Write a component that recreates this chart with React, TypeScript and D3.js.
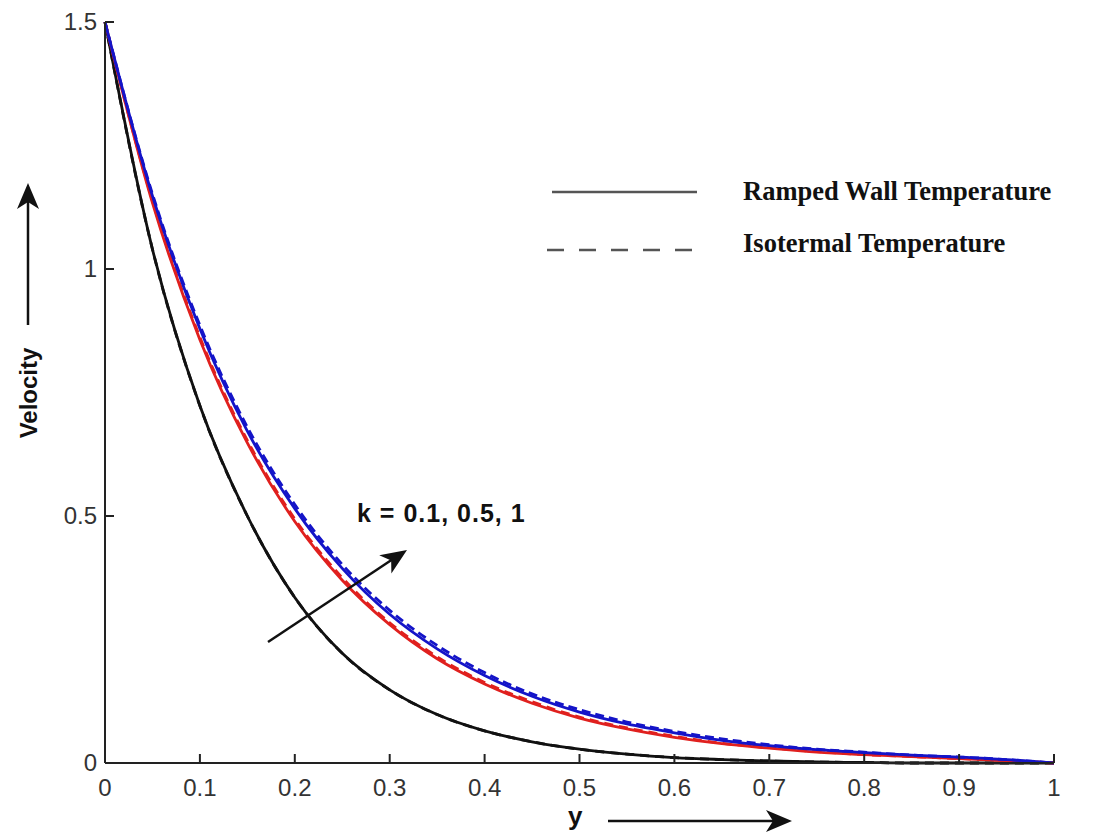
import React from 'react';
import * as d3 from 'd3';

// distance from the plate
const yPoints = [0, 0.05, 0.1, 0.15, 0.2, 0.25, 0.3, 0.35, 0.4, 0.45, 0.5, 0.55, 0.6, 0.65, 0.7, 0.75, 0.8, 0.85, 0.9, 0.95, 1];

// velocity profiles
const blackSolid = [1.5, 1.04, 0.723, 0.5, 0.335, 0.222, 0.148, 0.098, 0.065, 0.043, 0.028, 0.018, 0.011, 0.007, 0.004, 0.002, 0.001, 0, 0, 0, 0];
const redSolid = [1.5, 1.134, 0.857, 0.648, 0.489, 0.37, 0.28, 0.211, 0.16, 0.121, 0.091, 0.069, 0.052, 0.039, 0.03, 0.022, 0.017, 0.013, 0.009, 0.005, 0];
const redDashed = [1.5, 1.138, 0.862, 0.653, 0.494, 0.375, 0.284, 0.215, 0.163, 0.124, 0.093, 0.071, 0.054, 0.04, 0.031, 0.023, 0.017, 0.013, 0.009, 0.005, 0];
const blueSolid = [1.5, 1.148, 0.879, 0.672, 0.515, 0.394, 0.301, 0.231, 0.177, 0.135, 0.103, 0.079, 0.061, 0.046, 0.035, 0.027, 0.021, 0.016, 0.012, 0.007, 0];
const blueDashed = [1.5, 1.152, 0.886, 0.68, 0.523, 0.402, 0.309, 0.238, 0.183, 0.14, 0.108, 0.083, 0.064, 0.049, 0.037, 0.028, 0.022, 0.016, 0.012, 0.007, 0];

const xTicks = [0, 0.1, 0.2, 0.3, 0.4, 0.5, 0.6, 0.7, 0.8, 0.9, 1];
const yTicks = [0, 0.5, 1, 1.5];

const legendItems = ['Ramped Wall Temperature', 'Isotermal Temperature'];
const annotation = 'k = 0.1, 0.5, 1';

const App = () => {
  const width = 1110;
  const height = 834;

  const x = d3.scaleLinear().domain([0, 1]).range([105, 1054]);
  const y = d3.scaleLinear().domain([0, 1.5]).range([763, 22]);

  const makeLine = (vals: number[]) =>
    d3.line<number>()
      .x((_, i) => x(yPoints[i]))
      .y(d => y(d))
      .curve(d3.curveMonotoneX)(vals) || '';

  const curves = [
    { vals: blackSolid, color: '#111', dash: null },
    { vals: blackSolid, color: '#111', dash: '9 6' },
    { vals: redDashed, color: '#e0201e', dash: '9 6' },
    { vals: redSolid, color: '#e0201e', dash: null },
    { vals: blueSolid, color: '#1414c8', dash: null },
    { vals: blueDashed, color: '#1414c8', dash: '9 5' },
  ];

  const sans = 'Liberation Sans, Arial, sans-serif';
  const serif = 'Liberation Serif, Times New Roman, serif';

  // arrow head pointing along +x, tip at origin
  const head = 'M0,0 L-26,-11 L-19,0 L-26,11 Z';
  const kAngle = Math.atan2(550 - 642, 407 - 268) * 180 / Math.PI;

  return (
    <svg width={width} height={height} style={{ position: 'absolute', left: 0, top: 0, background: '#fff' }}>
      {curves.map((c, i) => (
        <path key={i} d={makeLine(c.vals)} fill="none" stroke={c.color}
          strokeWidth={2.8} strokeDasharray={c.dash || undefined} />
      ))}

      {/* axes */}
      <line x1={x(0)} x2={x(1)} y1={y(0)} y2={y(0)} stroke="#222" strokeWidth={2} />
      <line x1={x(0)} x2={x(0)} y1={y(0)} y2={y(1.5)} stroke="#222" strokeWidth={2} />
      {xTicks.map(t => (
        <g key={t}>
          <line x1={x(t)} x2={x(t)} y1={y(0)} y2={y(0) - 9} stroke="#222" strokeWidth={2} />
          <text x={x(t)} y={796} textAnchor="middle" fontFamily={sans} fontSize={24} fill="#333">{t}</text>
        </g>
      ))}
      {yTicks.map(t => (
        <g key={t}>
          <line x1={x(0)} x2={x(0) + 9} y1={y(t)} y2={y(t)} stroke="#222" strokeWidth={2} />
          <text x={97} y={y(t) + 8} textAnchor="end" fontFamily={sans} fontSize={24} fill="#333">{t}</text>
        </g>
      ))}

      {/* axis titles */}
      <text x={568} y={825} fontFamily={sans} fontWeight="bold" fontSize={26} fill="#111">y</text>
      <line x1={608} x2={780} y1={821} y2={821} stroke="#111" strokeWidth={2.5} />
      <path d={head} transform="translate(792,821)" fill="#111" />

      <text transform="translate(37,393) rotate(-90)" textAnchor="middle" fontFamily={sans}
        fontWeight="bold" fontSize={24} fill="#111">Velocity</text>
      <line x1={28} x2={28} y1={325} y2={195} stroke="#111" strokeWidth={2.5} />
      <path d={head} transform="translate(28,183) rotate(-90)" fill="#111" />

      {/* legend */}
      <line x1={552} x2={697} y1={192} y2={192} stroke="#555" strokeWidth={2.5} />
      <line x1={547} x2={697} y1={250} y2={250} stroke="#555" strokeWidth={2.5} strokeDasharray="17 15" />
      {legendItems.map((l, i) => (
        <text key={l} x={743} y={200 + i * 52} fontFamily={serif} fontWeight="bold" fontSize={26.5} fill="#111">{l}</text>
      ))}

      {/* k annotation */}
      <text x={357} y={522} fontFamily={sans} fontWeight="bold" fontSize={25} letterSpacing={1} fill="#111">{annotation}</text>
      <line x1={268} y1={642} x2={396} y2={557} stroke="#111" strokeWidth={2.5} />
      <path d={head} transform={`translate(407,550) rotate(${kAngle})`} fill="#111" />
    </svg>
  );
};

export default App;
